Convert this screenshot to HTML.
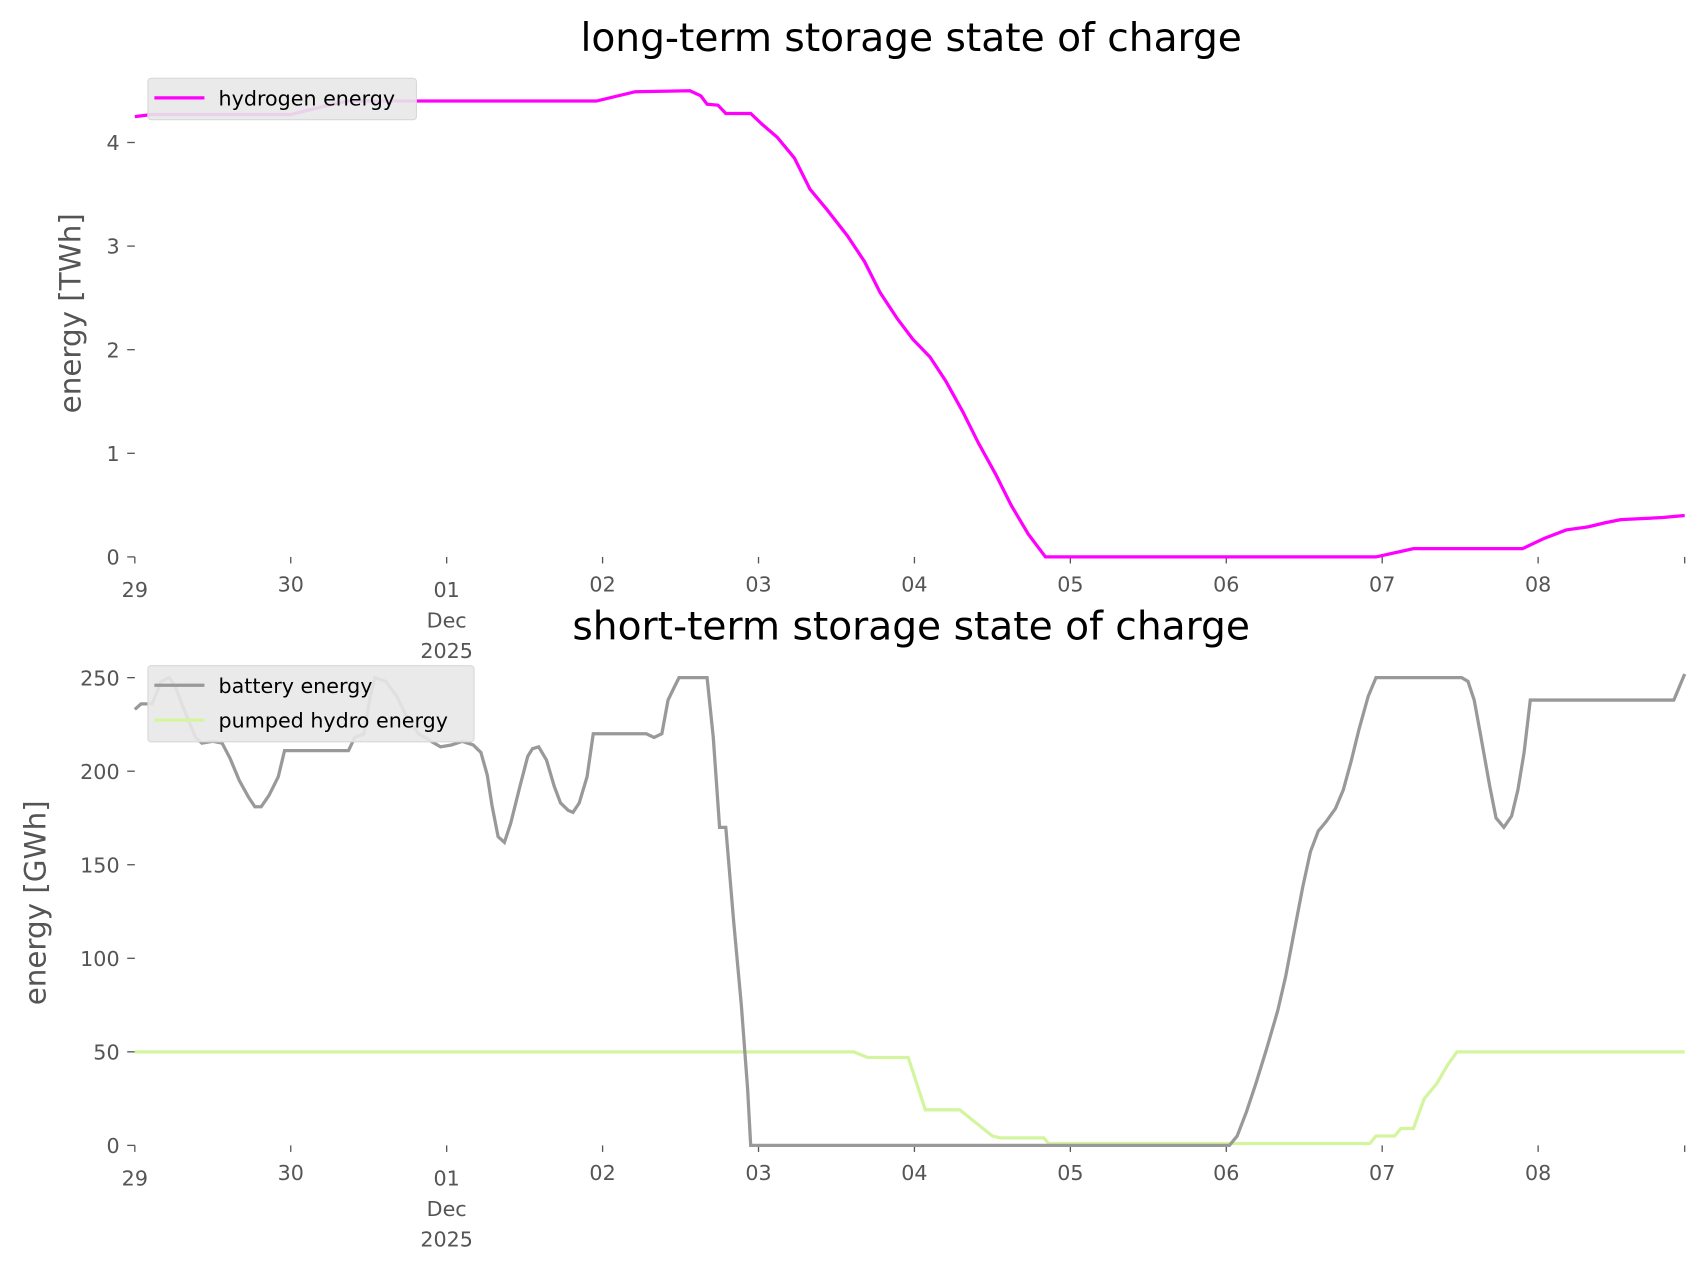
<!DOCTYPE html>
<html><head><meta charset="utf-8"><style>
html,body{margin:0;padding:0;background:#fff;}
svg{display:block;font-family:"DejaVu Sans","Liberation Sans",sans-serif;}
</style></head><body>
<svg id="chart" width="1706" height="1277" viewBox="0 0 1569 1174" preserveAspectRatio="none"></svg>
<script>
// ---- data ----
const dayLabels = ["29","30","01","02","03","04","05","06","07","08"];
const h2Days = [0,0.11,1.0,1.16,1.30,1.37,2.96,3.21,3.56,3.63,3.67,3.74,3.79,3.95,4.02,4.12,4.23,4.33,4.44,4.57,4.68,4.78,4.89,4.99,5.10,5.20,5.31,5.41,5.52,5.62,5.73,5.84,7.96,8.20,8.90,9.04,9.18,9.32,9.43,9.53,9.80,9.94];
const h2Vals = [4.25,4.27,4.27,4.33,4.38,4.40,4.40,4.49,4.50,4.45,4.37,4.36,4.28,4.28,4.18,4.05,3.85,3.55,3.35,3.10,2.85,2.55,2.30,2.10,1.93,1.70,1.40,1.10,0.80,0.50,0.22,0.0,0.0,0.08,0.08,0.18,0.26,0.29,0.33,0.36,0.38,0.40];
const batDays = [0,0.04,0.11,0.17,0.22,0.26,0.32,0.39,0.43,0.50,0.56,0.61,0.67,0.73,0.77,0.81,0.86,0.92,0.96,1.37,1.41,1.47,1.51,1.54,1.61,1.68,1.75,1.82,1.92,1.96,2.03,2.10,2.17,2.22,2.26,2.29,2.33,2.37,2.41,2.47,2.52,2.55,2.59,2.64,2.69,2.73,2.78,2.81,2.85,2.90,2.94,3.28,3.33,3.38,3.42,3.46,3.49,3.67,3.71,3.75,3.79,3.84,3.89,3.93,3.95,7.02,7.07,7.13,7.19,7.26,7.33,7.38,7.43,7.49,7.54,7.59,7.64,7.70,7.75,7.80,7.85,7.91,7.96,8.51,8.55,8.59,8.63,8.69,8.73,8.78,8.83,8.87,8.91,8.95,9.87,9.94];
const batVals = [233,236,236,248,250,245,232,218,215,216,215,207,195,186,181,181,187,197,211,211,218,220,240,250,248,240,228,220,215,213,214,216,214,210,198,182,165,162,172,192,208,212,213,206,192,183,179,178,183,197,220,220,218,220,238,245,250,250,218,170,170,120,75,30,0,0,5,18,33,52,72,90,112,138,157,168,173,180,190,205,222,240,250,250,248,238,220,192,175,170,176,190,210,238,238,252];
const phDays = [0,4.61,4.70,4.96,5.07,5.29,5.38,5.50,5.55,5.83,5.86,7.92,7.96,8.08,8.12,8.20,8.27,8.35,8.42,8.48,9.94];
const phVals = [50,50,47,47,19,19,13,5,4,4,1,1,5,5,9,9,25,33,43,50,50];
const h2Ticks = [0,1,2,3,4];
const stTicks = [0,50,100,150,200,250];

// ---- layout ----
const NS="http://www.w3.org/2000/svg";
const svg=document.getElementById('chart');
const X0=124, DAYPX=143.4, XEND=124+9.94*143.4;
const xs=d=>X0+d*DAYPX;
function el(tag,attrs,parent,text){const e=document.createElementNS(NS,tag);for(const k in attrs)e.setAttribute(k,attrs[k]);if(text!==undefined)e.textContent=text;(parent||svg).appendChild(e);return e;}
function path(days,vals,ys){return days.map((d,i)=>(i?'L':'M')+xs(d).toFixed(1)+','+ys(vals[i]).toFixed(1)).join(' ');}

function axes(g,base,ys,ticks,ylabel,ylabelX,ylabelY,title,titleY){
  const t=el('text',{x:838,y:titleY,'text-anchor':'middle','font-size':'36',fill:'#000'},g,title);
  
  ticks.forEach(v=>{
    el('line',{x1:117,x2:124,y1:ys(v),y2:ys(v),stroke:'#555','stroke-width':1.2},g);
    const tt=el('text',{x:110,y:ys(v)+7,'text-anchor':'end','font-size':'19',fill:'#555'},g,String(v));
    
  });
  dayLabels.forEach((lab,i)=>{
    const x=xs(i);
    el('line',{x1:x,x2:x,y1:base,y2:base+6,stroke:'#555','stroke-width':1.2},g);
    const major=(i===0||i===2);
    const tt=el('text',{x:x,y:base+(major?37:32),'text-anchor':'middle','font-size':'19',fill:'#555'},g,lab);
    
    if(i===2){el('text',{x:x,y:base+65,'text-anchor':'middle','font-size':'19',fill:'#555'},g,'Dec');el('text',{x:x,y:base+93,'text-anchor':'middle','font-size':'19',fill:'#555'},g,'2025');}
  });
  el('line',{x1:XEND,x2:XEND,y1:base,y2:base+6,stroke:'#555','stroke-width':1.2},g);
  const yl=el('text',{x:0,y:0,transform:`translate(${ylabelX},${ylabelY}) rotate(-90)`,'text-anchor':'middle','font-size':'27',fill:'#555'},g,ylabel);
  
}

// top chart
const gt=el('g',{});
const yT=v=>512-v*95.25;
axes(gt,512,yT,h2Ticks,'energy [TWh]',74,288,'long-term storage state of charge',47);
const p1=el('path',{d:path(h2Days,h2Vals,yT),fill:'none',stroke:'#ff00ff','stroke-width':3},gt);

const lg1=el('g',{},gt);
el('rect',{x:136,y:72,width:247,height:38,rx:3,fill:'#e8e8e8',stroke:'#d8d8d8','fill-opacity':0.9},lg1);
el('line',{x1:142,x2:188,y1:90,y2:90,stroke:'#ff00ff','stroke-width':3},lg1);
el('text',{x:201,y:97,'font-size':'19',fill:'#000'},lg1,'hydrogen energy');

// bottom chart
const gb=el('g',{});
const yB=v=>1053-v*1.72;
axes(gb,1053,yB,stTicks,'energy [GWh]',42,830,'short-term storage state of charge',588);
const p3=el('path',{d:path(phDays,phVals,yB),fill:'none',stroke:'#d4f5a0','stroke-width':3},gb);

const p2=el('path',{d:path(batDays,batVals,yB),fill:'none',stroke:'#999','stroke-width':3},gb);

const lg2=el('g',{},gb);
el('rect',{x:136,y:612,width:300,height:70,rx:3,fill:'#e8e8e8',stroke:'#d8d8d8','fill-opacity':0.9},lg2);
el('line',{x1:142,x2:188,y1:630,y2:630,stroke:'#999','stroke-width':3},lg2);
el('text',{x:201,y:637,'font-size':'19',fill:'#000'},lg2,'battery energy');
el('line',{x1:142,x2:188,y1:662,y2:662,stroke:'#d4f5a0','stroke-width':3},lg2);
el('text',{x:201,y:669,'font-size':'19',fill:'#000'},lg2,'pumped hydro energy');
</script>
</body></html>
